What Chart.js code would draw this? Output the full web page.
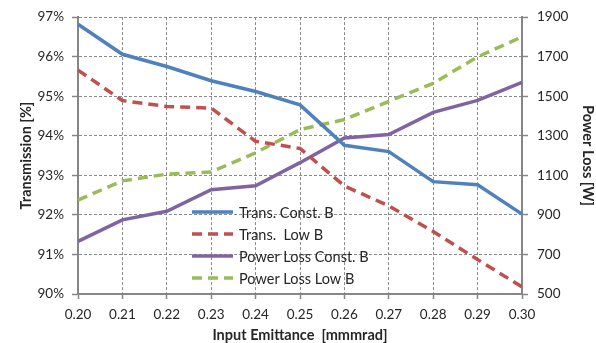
<!DOCTYPE html>
<html>
<head>
<meta charset="utf-8">
<script src="https://cdn.jsdelivr.net/npm/chart.js@4/dist/chart.umd.min.js"></script>
<style>
  html, body { margin: 0; padding: 0; background: #fff; }
  #wrap { width: 596px; height: 343px; }
</style>
</head>
<body>
<div id="wrap"><canvas id="c" width="596" height="343"></canvas></div>
<script>
// Input emittance values (mm·mrad)
const emittance = ['0.20', '0.21', '0.22', '0.23', '0.24', '0.25', '0.26', '0.27', '0.28', '0.29', '0.30'];

// Transmission [%]
const transConstB = [96.82, 96.06, 95.75, 95.39, 95.12, 94.78, 93.76, 93.60, 92.84, 92.76, 92.02];
const transLowB   = [95.66, 94.89, 94.74, 94.70, 93.86, 93.68, 92.73, 92.23, 91.58, 90.87, 90.18];

// Power loss [W]
const lossConstB = [766, 875, 918, 1027, 1047, 1164, 1289, 1306, 1418, 1479, 1570];
const lossLowB   = [975, 1072, 1106, 1117, 1214, 1331, 1382, 1474, 1565, 1699, 1800];

const FONT = 'Lato, "Open Sans", sans-serif';
const TEXT = '#262626';
const AXIS = '#868686';
const GRID = '#8a8a8a';

// Legend drawn inside the plot area, without a frame
const innerLegend = {
  id: 'innerLegend',
  afterDraw(chart) {
    const ctx = chart.ctx;
    const x0 = 192, x1 = 233, tx = 239, y0 = 212, dy = 22;
    ctx.save();
    chart.data.datasets.forEach((ds, i) => {
      const y = y0 + i * dy;
      ctx.beginPath();
      ctx.setLineDash(ds.borderDash || []);
      ctx.lineWidth = ds.borderWidth;
      ctx.strokeStyle = ds.borderColor;
      ctx.moveTo(x0, y);
      ctx.lineTo(x1, y);
      ctx.stroke();
      ctx.setLineDash([]);
      ctx.fillStyle = TEXT;
      ctx.font = '14.5px ' + FONT;
      ctx.textBaseline = 'middle';
      ctx.textAlign = 'left';
      ctx.fillText(ds.label, tx, y + 1);
    });
    ctx.restore();
  }
};

const line = (label, data, color, axis, dash) => ({
  label, data, yAxisID: axis,
  borderColor: color, backgroundColor: color,
  borderWidth: 3.5, borderDash: dash, borderCapStyle: 'butt',
  pointRadius: 0, tension: 0, fill: false
});

new Chart(document.getElementById('c'), {
  type: 'line',
  data: {
    labels: emittance,
    datasets: [
      line('Trans. Const. B', transConstB, '#4f81bd', 'y', []),
      line('Trans.  Low B', transLowB, '#c0504d', 'y', [10, 6]),
      line('Power Loss Const. B', lossConstB, '#8064a2', 'y1', []),
      line('Power Loss Low B', lossLowB, '#9bbb59', 'y1', [10, 6])
    ]
  },
  options: {
    responsive: false,
    animation: false,
    layout: { padding: { top: 15, left: 0, right: 0, bottom: 0 } },
    plugins: { legend: { display: false }, tooltip: { enabled: false } },
    scales: {
      x: {
        type: 'category',
        offset: false,
        grid: { color: GRID, lineWidth: 1, tickLength: 5, tickColor: AXIS, tickWidth: 1.5 },
        border: { display: true, color: AXIS, width: 2, dash: [3, 2] },
        ticks: { color: TEXT, font: { family: FONT, size: 13.5 }, padding: 8, maxRotation: 0, autoSkip: false },
        title: { display: true, text: 'Input Emittance  [mmmrad]', color: TEXT,
                 font: { family: FONT, size: 14.5, weight: 'bold' }, padding: { top: 0, bottom: -1 } },
        afterFit(s) { s.height = 49; }
      },
      y: {
        position: 'left',
        min: 90, max: 97,
        grid: { color: GRID, lineWidth: 1, tickLength: 6, tickColor: AXIS, tickWidth: 1.5 },
        border: { display: true, color: AXIS, width: 2, dash: [3, 2] },
        ticks: { stepSize: 1, color: TEXT, font: { family: FONT, size: 13.5 }, padding: 8,
                 callback: v => v + '%' },
        title: { display: true, text: 'Transmission [%]', color: TEXT,
                 font: { family: FONT, size: 14.5, weight: 'bold' }, padding: { top: 18, bottom: 0 } },
        afterFit(s) { s.width = 78; }
      },
      y1: {
        position: 'right',
        min: 500, max: 1900,
        grid: { drawOnChartArea: false, tickLength: 6, tickColor: AXIS, tickWidth: 1.5 },
        border: { display: true, color: AXIS, width: 2 },
        ticks: { stepSize: 200, color: TEXT, font: { family: FONT, size: 13.5 }, padding: 9,
                 callback: v => String(v) },
        title: { display: true, text: 'Power Loss [W]', color: TEXT,
                 font: { family: FONT, size: 14.5, weight: 'bold' }, padding: { top: 0, bottom: 0 } },
        afterFit(s) { s.width = 74; }
      }
    }
  },
  plugins: [innerLegend]
});
</script>
</body>
</html>
